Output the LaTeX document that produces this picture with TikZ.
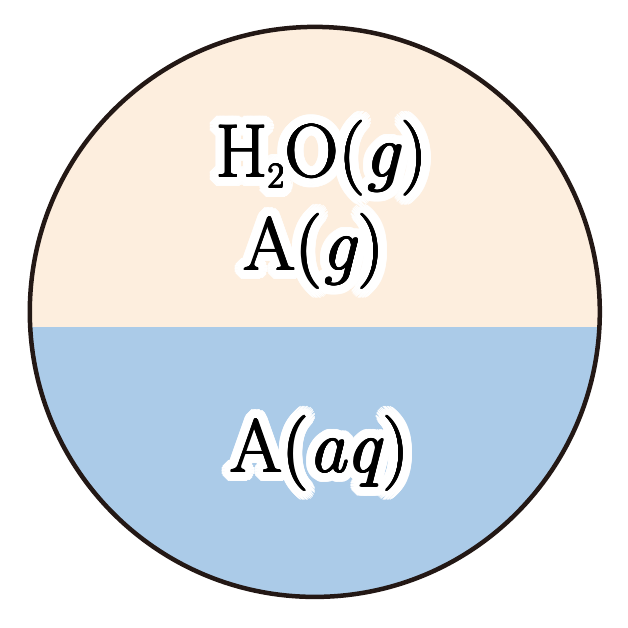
\documentclass[tikz,border=0pt]{standalone}
\usetikzlibrary{calc}
\definecolor{peach}{RGB}{253,238,222}
\definecolor{water}{RGB}{171,203,232}
\definecolor{rim}{RGB}{35,24,21}
\tikzset{
  lbl/.style={anchor=base, inner sep=0pt, font=\fontsize{75}{90}\selectfont},
  rimline/.style={draw=rim, line width=4.5pt}
}
\newcommand{\subtwo}{\raisebox{-11pt}{\fontsize{36}{40}\selectfont 2}}
\newcommand{\halolabel}[3]{%
  \foreach \a in {0,8,...,352}{\node[lbl,text=white] at ($(#2)+(\a:10pt)$) {#3};}%
  \foreach \a in {0,12,...,348}{\node[lbl,text=white] at ($(#2)+(\a:7pt)$) {#3};}%
  \foreach \a in {0,20,...,340}{\node[lbl,text=white] at ($(#2)+(\a:4pt)$) {#3};}%
  \foreach \a in {0,45,...,315}{\node[lbl,text=black] at ($(#2)+(\a:0.7pt)$) {#3};}%
  \node[lbl] (#1) at (#2) {#3};}
\begin{document}
\begin{tikzpicture}[x=1pt,y=-1pt]
\useasboundingbox (0,0) rectangle (628,628);
\coordinate (c) at (314.8,311.9);
\begin{scope}
  \clip (c) circle[radius=285pt];
  \fill[peach] (0,0) rectangle (628,327.3);
  \fill[water] (0,327.3) rectangle (628,628);
\end{scope}
\draw[rimline] (c) circle[radius=285pt];
\coordinate (p1) at (322,177);
\coordinate (p2) at (314,270);
\coordinate (p3) at (320,472);
\halolabel{gas1}{p1}{H\subtwo O(\textit{g})}
\halolabel{gas2}{p2}{A(\textit{g})}
\halolabel{aq}{p3}{A(\textit{aq})}
\end{tikzpicture}
\end{document}
